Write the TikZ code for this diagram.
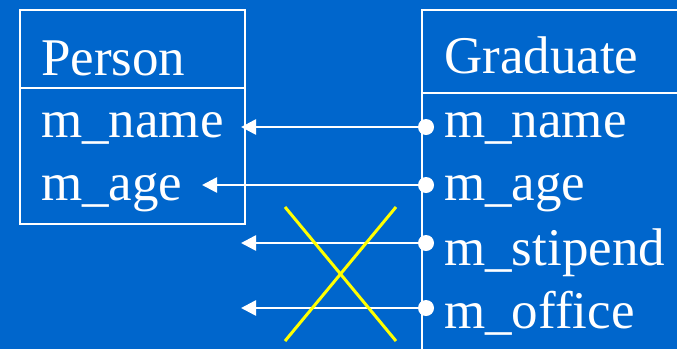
\documentclass[tikz,border=0pt]{standalone}
\usepackage{fontspec}
\setmainfont{Liberation Serif}
\usetikzlibrary{arrows.meta}
\definecolor{bg}{RGB}{0,102,204}
\definecolor{xyellow}{RGB}{255,255,0}
\tikzset{
  lbl/.style={anchor=base west,inner sep=0pt,text=white,font=\fontsize{53}{60}\selectfont},
  boxline/.style={draw=white,line width=2.6pt},
  conn/.style={white,line width=2.6pt,-{Triangle[length=15pt,width=15pt]}},
  dotc/.style={circle,fill=white,inner sep=0pt,minimum size=16pt},
  cross/.style={xyellow,line width=3pt}
}
\begin{document}
\begin{tikzpicture}[x=1pt,y=-1pt]
\useasboundingbox (0,0) rectangle (677,349);
\fill[bg] (0,0) rectangle (677,349);
\begin{scope}
\clip (0,0) rectangle (677,349);
% Person box
\draw[boxline] (20,10) rectangle (245,224);
\draw[boxline] (20,88) -- (245,88);
% Graduate box
\draw[boxline] (422,400) -- (422,10) -- (700,10);
\draw[boxline] (422,93) -- (700,93);
\end{scope}
% texts
\node[lbl] (person) at (41,75) {Person};
\node[lbl] (pname) at (41,137) {m\_name};
\node[lbl] (page) at (41,200) {m\_age};
\node[lbl] (grad) at (444,73) {Graduate};
\node[lbl] (gname) at (444,137) {m\_name};
\node[lbl] (gage) at (444,200) {m\_age};
\node[lbl] (gstip) at (444,265) {m\_stipend};
\node[lbl] (goff) at (444,328) {m\_office};
% dots
\node[dotc] (d1) at (426,127) {};
\node[dotc] (d2) at (426,185) {};
\node[dotc] (d3) at (426,243) {};
\node[dotc] (d4) at (426,308) {};
% arrow targets
\coordinate (t1) at (241,127);
\coordinate (t2) at (202,185);
\coordinate (t3) at (241,243);
\coordinate (t4) at (241,308);
\draw[conn] (d1.center) -- (t1);
\draw[conn] (d2.center) -- (t2);
\draw[conn] (d3.center) -- (t3);
\draw[conn] (d4.center) -- (t4);
% cross
\coordinate (x1) at (285,207);
\coordinate (x2) at (396,341);
\coordinate (x3) at (396,207);
\coordinate (x4) at (285,341);
\draw[cross] (x1) -- (x2);
\draw[cross] (x3) -- (x4);
\end{tikzpicture}
\end{document}
